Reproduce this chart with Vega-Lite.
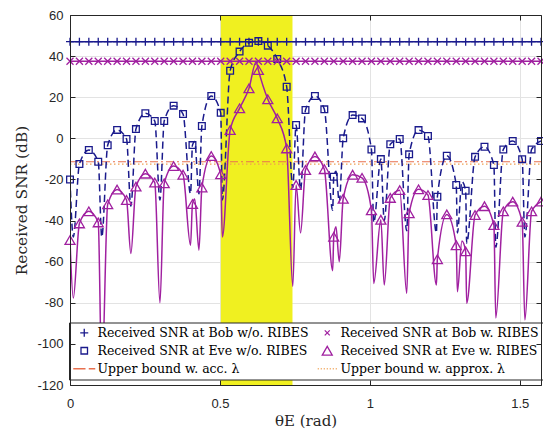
{
  "$schema": "https://vega.github.io/schema/vega-lite/v6.json",
  "width": 471,
  "height": 370,
  "autosize": "none",
  "padding": {"left": 70, "top": 15, "right": 2, "bottom": 46},
  "background": "white",
  "config": {"view": {"stroke": null}},
  "resolve": {"axis": {"x": "independent", "y": "independent"}},
  "datasets": {
    "band": [{"from": 0.503, "to": 0.742, "lo": -120, "hi": 60}],
    "bounds": [{"theta": 0, "acc": -11.4, "approx": -12.5}, {"theta": 1.5708, "acc": -11.4, "approx": -12.5}],
    "legendrows": [],
    "markers": [
      {"theta": 0, "bob_wo": 47, "bob_w": 37.5, "wo": -20, "w": -49.5},
      {"theta": 0.0314, "bob_wo": 47, "bob_w": 37.5, "wo": -12.5, "w": -41.4},
      {"theta": 0.0628, "bob_wo": 47, "bob_w": 37.5, "wo": -5.7, "w": -35.5},
      {"theta": 0.0942, "bob_wo": 47, "bob_w": 37.5, "wo": -11.4, "w": -40.9},
      {"theta": 0.1257, "bob_wo": 47, "bob_w": 37.5, "wo": -3.4, "w": -32.1},
      {"theta": 0.1571, "bob_wo": 47, "bob_w": 37.5, "wo": 4.1, "w": -24.9},
      {"theta": 0.1885, "bob_wo": 47, "bob_w": 37.5, "wo": -0.3, "w": -30},
      {"theta": 0.2199, "bob_wo": 47, "bob_w": 37.5, "wo": 4.5, "w": -23.5},
      {"theta": 0.2513, "bob_wo": 47, "bob_w": 37.5, "wo": 12.2, "w": -17.2},
      {"theta": 0.2827, "bob_wo": 47, "bob_w": 37.5, "wo": 8.4, "w": -21.5},
      {"theta": 0.3142, "bob_wo": 47, "bob_w": 37.5, "wo": 8.4, "w": -21.9},
      {"theta": 0.3456, "bob_wo": 47, "bob_w": 37.5, "wo": 15.9, "w": -13.5},
      {"theta": 0.377, "bob_wo": 47, "bob_w": 37.5, "wo": 11.8, "w": -17.7},
      {"theta": 0.4084, "bob_wo": 47, "bob_w": 37.5, "wo": -3.3, "w": -32},
      {"theta": 0.4398, "bob_wo": 47, "bob_w": 37.5, "wo": 6, "w": -23.9},
      {"theta": 0.4712, "bob_wo": 47, "bob_w": 37.5, "wo": 20.6, "w": -8.6},
      {"theta": 0.5027, "bob_wo": 47, "bob_w": 37.5, "wo": 12.4, "w": -17.5},
      {"theta": 0.5341, "bob_wo": 47, "bob_w": 37.5, "wo": 32.9, "w": 4},
      {"theta": 0.5655, "bob_wo": 47, "bob_w": 37.5, "wo": 42.2, "w": 14.6},
      {"theta": 0.5969, "bob_wo": 47, "bob_w": 37.5, "wo": 46.5, "w": 24.3},
      {"theta": 0.6283, "bob_wo": 47, "bob_w": 37.5, "wo": 47.3, "w": 33.2},
      {"theta": 0.6597, "bob_wo": 47, "bob_w": 37.5, "wo": 45.1, "w": 19},
      {"theta": 0.6912, "bob_wo": 47, "bob_w": 37.5, "wo": 38.6, "w": 9.7},
      {"theta": 0.7226, "bob_wo": 47, "bob_w": 37.5, "wo": 25.1, "w": -4.9},
      {"theta": 0.754, "bob_wo": 47, "bob_w": 37.5, "wo": 6.5, "w": -22.7},
      {"theta": 0.7854, "bob_wo": 47, "bob_w": 37.5, "wo": 13.8, "w": -15.4},
      {"theta": 0.8168, "bob_wo": 47, "bob_w": 37.5, "wo": 20.6, "w": -8.8},
      {"theta": 0.8482, "bob_wo": 47, "bob_w": 37.5, "wo": 14.1, "w": -15},
      {"theta": 0.8796, "bob_wo": 47, "bob_w": 37.5, "wo": -18.7, "w": -47.9},
      {"theta": 0.9111, "bob_wo": 47, "bob_w": 37.5, "wo": 0, "w": -29.4},
      {"theta": 0.9425, "bob_wo": 47, "bob_w": 37.5, "wo": 11.3, "w": -17.7},
      {"theta": 0.9739, "bob_wo": 47, "bob_w": 37.5, "wo": 9.7, "w": -19.2},
      {"theta": 1.0053, "bob_wo": 47, "bob_w": 37.5, "wo": -5.4, "w": -35},
      {"theta": 1.0367, "bob_wo": 47, "bob_w": 37.5, "wo": -10.1, "w": -39.6},
      {"theta": 1.0681, "bob_wo": 47, "bob_w": 37.5, "wo": -2.9, "w": -29},
      {"theta": 1.0996, "bob_wo": 47, "bob_w": 37.5, "wo": -0.3, "w": -25.2},
      {"theta": 1.131, "bob_wo": 47, "bob_w": 37.5, "wo": -7.8, "w": -36.5},
      {"theta": 1.1624, "bob_wo": 47, "bob_w": 37.5, "wo": 4, "w": -24.8},
      {"theta": 1.1938, "bob_wo": 47, "bob_w": 37.5, "wo": 1.1, "w": -27.6},
      {"theta": 1.2252, "bob_wo": 47, "bob_w": 37.5, "wo": -28.4, "w": -58.8},
      {"theta": 1.2566, "bob_wo": 47, "bob_w": 37.5, "wo": -8.5, "w": -37},
      {"theta": 1.2881, "bob_wo": 47, "bob_w": 37.5, "wo": -22.7, "w": -52},
      {"theta": 1.3195, "bob_wo": 47, "bob_w": 37.5, "wo": -25.5, "w": -55},
      {"theta": 1.3509, "bob_wo": 47, "bob_w": 37.5, "wo": -9, "w": -37.3},
      {"theta": 1.3823, "bob_wo": 47, "bob_w": 37.5, "wo": -4.1, "w": -33},
      {"theta": 1.4137, "bob_wo": 47, "bob_w": 37.5, "wo": -13, "w": -42.2},
      {"theta": 1.4451, "bob_wo": 47, "bob_w": 37.5, "wo": -5.4, "w": -35.5},
      {"theta": 1.4765, "bob_wo": 47, "bob_w": 37.5, "wo": -1.3, "w": -30.8},
      {"theta": 1.508, "bob_wo": 47, "bob_w": 37.5, "wo": -10.2, "w": -40.6},
      {"theta": 1.5394, "bob_wo": 47, "bob_w": 37.5, "wo": -5.4, "w": -35.5},
      {"theta": 1.5708, "bob_wo": 47, "bob_w": 37.5, "wo": -1.3, "w": -30.8}
    ],
    "curve": [
      {"theta": 0, "wo": -20, "w": -49.5},
      {"theta": 0.011, "wo": -48, "w": -77.7},
      {"theta": 0.0314, "wo": -12.5, "w": -41.4},
      {"theta": 0.0628, "wo": -5.7, "w": -35.5},
      {"theta": 0.0942, "wo": -11.4, "w": -40.9},
      {"theta": 0.106, "wo": -48, "w": -117},
      {"theta": 0.1257, "wo": -3.4, "w": -32.1},
      {"theta": 0.1571, "wo": 4.1, "w": -24.9},
      {"theta": 0.1885, "wo": -0.3, "w": -30},
      {"theta": 0.203, "wo": -33, "w": -56},
      {"theta": 0.2199, "wo": 4.5, "w": -23.5},
      {"theta": 0.2513, "wo": 12.2, "w": -17.2},
      {"theta": 0.2827, "wo": 8.4, "w": -21.5},
      {"theta": 0.3, "wo": -30, "w": -80},
      {"theta": 0.3142, "wo": 8.4, "w": -21.9},
      {"theta": 0.3456, "wo": 15.9, "w": -13.5},
      {"theta": 0.377, "wo": 11.8, "w": -17.7},
      {"theta": 0.402, "wo": -27, "w": -52},
      {"theta": 0.4084, "wo": -3.3, "w": -32},
      {"theta": 0.416, "wo": -1.5, "w": -29.5},
      {"theta": 0.43, "wo": -27, "w": -54.4},
      {"theta": 0.4398, "wo": 6, "w": -23.9},
      {"theta": 0.4712, "wo": 20.6, "w": -8.6},
      {"theta": 0.5027, "wo": 12.4, "w": -17.5},
      {"theta": 0.508, "wo": -30, "w": -48},
      {"theta": 0.5341, "wo": 32.9, "w": 4},
      {"theta": 0.5655, "wo": 42.2, "w": 14.6},
      {"theta": 0.5969, "wo": 46.5, "w": 24.3},
      {"theta": 0.621, "wo": 47.2, "w": 37.3},
      {"theta": 0.6283, "wo": 47.3, "w": 33.2},
      {"theta": 0.6597, "wo": 45.1, "w": 19},
      {"theta": 0.6912, "wo": 38.6, "w": 9.7},
      {"theta": 0.7226, "wo": 25.1, "w": -4.9},
      {"theta": 0.743, "wo": -24, "w": -72},
      {"theta": 0.754, "wo": 6.5, "w": -22.7},
      {"theta": 0.769, "wo": -25, "w": -46},
      {"theta": 0.7854, "wo": 13.8, "w": -15.4},
      {"theta": 0.8168, "wo": 20.6, "w": -8.8},
      {"theta": 0.8482, "wo": 14.1, "w": -15},
      {"theta": 0.876, "wo": -35, "w": -64.4},
      {"theta": 0.8796, "wo": -18.7, "w": -47.9},
      {"theta": 0.887, "wo": -16, "w": -43},
      {"theta": 0.898, "wo": -31, "w": -60},
      {"theta": 0.9111, "wo": 0, "w": -29.4},
      {"theta": 0.9425, "wo": 11.3, "w": -17.7},
      {"theta": 0.9739, "wo": 9.7, "w": -19.2},
      {"theta": 1.0053, "wo": -5.4, "w": -35},
      {"theta": 1.013, "wo": -41, "w": -70.6},
      {"theta": 1.0367, "wo": -10.1, "w": -39.6},
      {"theta": 1.048, "wo": -40, "w": -71.4},
      {"theta": 1.0681, "wo": -2.9, "w": -29},
      {"theta": 1.0996, "wo": -0.3, "w": -25.2},
      {"theta": 1.123, "wo": -45, "w": -75.4},
      {"theta": 1.131, "wo": -7.8, "w": -36.5},
      {"theta": 1.1624, "wo": 4, "w": -24.8},
      {"theta": 1.1938, "wo": 1.1, "w": -27.6},
      {"theta": 1.222, "wo": -46, "w": -71.4},
      {"theta": 1.2252, "wo": -28.4, "w": -58.8},
      {"theta": 1.2566, "wo": -8.5, "w": -37},
      {"theta": 1.2881, "wo": -22.7, "w": -52},
      {"theta": 1.292, "wo": -46, "w": -74.6},
      {"theta": 1.307, "wo": -21, "w": -50},
      {"theta": 1.3195, "wo": -25.5, "w": -55},
      {"theta": 1.323, "wo": -51, "w": -80.3},
      {"theta": 1.3509, "wo": -9, "w": -37.3},
      {"theta": 1.3823, "wo": -4.1, "w": -33},
      {"theta": 1.4137, "wo": -13, "w": -42.2},
      {"theta": 1.42, "wo": -53, "w": -87.4},
      {"theta": 1.4451, "wo": -5.4, "w": -35.5},
      {"theta": 1.4765, "wo": -1.3, "w": -30.8},
      {"theta": 1.508, "wo": -10.2, "w": -40.6},
      {"theta": 1.517, "wo": -48, "w": -88.4},
      {"theta": 1.5394, "wo": -5.4, "w": -35.5},
      {"theta": 1.5708, "wo": -1.3, "w": -30.8}
    ]
  },
  "layer": [
    {
      "data": {"name": "band"},
      "mark": {"type": "rect", "color": "#F0F020"},
      "encoding": {
        "x": {"field": "from", "type": "quantitative", "scale": {"domain": [0, 1.5708], "nice": false, "zero": false},
          "axis": {"orient": "bottom", "values": [0, 0.5, 1, 1.5], "grid": true, "gridColor": "#E3E3E3", "gridWidth": 1, "domain": false, "ticks": false, "labels": false, "title": null, "zindex": 0}},
        "x2": {"field": "to"},
        "y": {"field": "lo", "type": "quantitative", "scale": {"domain": [-120, 60], "nice": false, "zero": false},
          "axis": {"orient": "left", "values": [-120, -100, -80, -60, -40, -20, 0, 20, 40, 60], "grid": true, "gridColor": "#E3E3E3", "gridWidth": 1, "domain": false, "ticks": false, "labels": false, "title": null, "zindex": 0}},
        "y2": {"field": "hi"}
      }
    },
    {
      "data": {"name": "bounds"},
      "mark": {"type": "line", "color": "#E8704F", "strokeWidth": 1.2, "strokeDash": [8, 3, 2, 3]},
      "encoding": {
        "x": {"field": "theta", "type": "quantitative", "axis": null},
        "y": {"field": "acc", "type": "quantitative", "axis": null}
      }
    },
    {
      "data": {"name": "bounds"},
      "mark": {"type": "line", "color": "#F0A050", "strokeWidth": 1.2, "strokeDash": [1.5, 2.5]},
      "encoding": {
        "x": {"field": "theta", "type": "quantitative", "axis": null},
        "y": {"field": "approx", "type": "quantitative", "axis": null}
      }
    },
    {
      "data": {"name": "curve"},
      "mark": {"type": "line", "color": "#1A1A8C", "strokeWidth": 1.5, "strokeDash": [7, 4], "interpolate": "monotone", "clip": true},
      "encoding": {
        "x": {"field": "theta", "type": "quantitative", "axis": null},
        "y": {"field": "wo", "type": "quantitative", "axis": null}
      }
    },
    {
      "data": {"name": "markers"},
      "mark": {"type": "point", "shape": "square", "size": 45, "filled": false, "color": "#1A1A8C", "strokeWidth": 1.3, "opacity": 1},
      "encoding": {
        "x": {"field": "theta", "type": "quantitative", "axis": null},
        "y": {"field": "wo", "type": "quantitative", "axis": null}
      }
    },
    {
      "data": {"name": "curve"},
      "mark": {"type": "line", "color": "#A020A0", "strokeWidth": 1.5, "interpolate": "monotone", "clip": true},
      "encoding": {
        "x": {"field": "theta", "type": "quantitative", "axis": null},
        "y": {"field": "w", "type": "quantitative", "axis": null}
      }
    },
    {
      "data": {"name": "markers"},
      "mark": {"type": "point", "shape": "triangle-up", "size": 100, "filled": false, "color": "#A020A0", "strokeWidth": 1.3, "opacity": 1},
      "encoding": {
        "x": {"field": "theta", "type": "quantitative", "axis": null},
        "y": {"field": "w", "type": "quantitative", "axis": null}
      }
    },
    {
      "data": {"name": "markers"},
      "mark": {"type": "line", "color": "#1A1A8C", "strokeWidth": 1.5},
      "encoding": {
        "x": {"field": "theta", "type": "quantitative",
          "axis": {"orient": "bottom", "values": [0, 0.5, 1, 1.5], "labelExpr": "'' + datum.value", "grid": false, "domain": true, "domainColor": "#262626", "ticks": true, "tickSize": -5, "tickColor": "#262626", "labelFont": "Liberation Sans", "labelFontSize": 13, "labelColor": "#262626", "labelPadding": 17, "labelFlush": false, "labelOverlap": false, "title": "θE (rad)", "titleFont": "DejaVu Serif", "titleFontSize": 15, "titleFontWeight": "normal", "titleColor": "#262626", "titleX": 235.5, "titleY": 35, "titleBaseline": "middle", "titleAlign": "center", "zindex": 1}},
        "y": {"field": "bob_wo", "type": "quantitative",
          "axis": {"orient": "left", "values": [-120, -100, -80, -60, -40, -20, 0, 20, 40, 60], "labelExpr": "'' + datum.value", "grid": false, "domain": true, "domainColor": "#262626", "ticks": true, "tickSize": -5, "tickColor": "#262626", "labelFont": "Liberation Sans", "labelFontSize": 13, "labelColor": "#262626", "labelPadding": 12, "labelFlush": false, "labelOverlap": false, "title": "Received SNR (dB)", "titleFont": "DejaVu Serif", "titleFontSize": 15.4, "titleFontWeight": "normal", "titleColor": "#262626", "titleX": -49, "titleY": 185, "titleAngle": 270, "titleBaseline": "middle", "titleAlign": "center", "zindex": 1}}
      }
    },
    {
      "data": {"name": "markers"},
      "mark": {"type": "point", "shape": "M-1,0H1M0,-1V1", "size": 64, "filled": false, "color": "#1A1A8C", "strokeWidth": 1.3, "opacity": 1},
      "encoding": {
        "x": {"field": "theta", "type": "quantitative", "axis": null},
        "y": {"field": "bob_wo", "type": "quantitative", "axis": null}
      }
    },
    {
      "data": {"name": "markers"},
      "mark": {"type": "line", "color": "#A020A0", "strokeWidth": 1.5},
      "encoding": {
        "x": {"field": "theta", "type": "quantitative",
          "axis": {"orient": "top", "values": [0, 0.5, 1, 1.5], "labels": false, "title": null, "grid": false, "domain": true, "domainColor": "#262626", "ticks": true, "tickSize": -5, "tickColor": "#262626", "zindex": 1}},
        "y": {"field": "bob_w", "type": "quantitative",
          "axis": {"orient": "right", "values": [-120, -100, -80, -60, -40, -20, 0, 20, 40, 60], "labels": false, "title": null, "grid": false, "domain": true, "domainColor": "#262626", "ticks": true, "tickSize": -5, "tickColor": "#262626", "zindex": 1}}
      }
    },
    {
      "data": {"name": "markers"},
      "mark": {"type": "point", "shape": "M-1,-1L1,1M-1,1L1,-1", "size": 49, "filled": false, "color": "#A020A0", "strokeWidth": 1.3, "opacity": 1},
      "encoding": {
        "x": {"field": "theta", "type": "quantitative", "axis": null},
        "y": {"field": "bob_w", "type": "quantitative", "axis": null}
      }
    },
    {
      "data": {"name": "legendrows"},
      "mark": {"type": "point", "filled": false, "strokeWidth": 1.3, "opacity": 1},
      "encoding": {
        "shape": {"field": "series", "type": "nominal",
          "scale": {"domain": ["Received SNR at Bob w/o. RIBES", "Received SNR at Eve w/o. RIBES", "Upper bound w. acc. λ", "Received SNR at Bob w. RIBES", "Received SNR at Eve w. RIBES", "Upper bound w. approx. λ"],
            "range": ["M-0.8,0H0.8M0,-0.8V0.8", "M-0.65,-0.65H0.65V0.65H-0.65Z", "M-2.2,0H0.25M0.9,0H2.2", "M-0.5,-0.5L0.5,0.5M-0.5,0.5L0.5,-0.5", "M0,-0.87L1,0.87H-1Z", "M-1.9,0h0.2M-1.3,0h0.2M-0.7,0h0.2M-0.1,0h0.2M0.5,0h0.2M1.1,0h0.2M1.7,0h0.2"]},
          "legend": {"title": null, "orient": "none", "legendX": -1, "legendY": 307.5, "columns": 2, "symbolSize": 100, "symbolStrokeWidth": 1.3, "symbolOffset": 5, "labelFont": "DejaVu Serif", "labelFontSize": 12.5, "labelColor": "#000000", "labelLimit": 400, "labelOffset": 7, "columnPadding": 6, "rowPadding": 4, "padding": 4, "strokeColor": "#262626", "fillColor": "white", "cornerRadius": 0}},
        "color": {"field": "series", "type": "nominal",
          "scale": {"domain": ["Received SNR at Bob w/o. RIBES", "Received SNR at Eve w/o. RIBES", "Upper bound w. acc. λ", "Received SNR at Bob w. RIBES", "Received SNR at Eve w. RIBES", "Upper bound w. approx. λ"],
            "range": ["#1A1A8C", "#1A1A8C", "#E8704F", "#A020A0", "#A020A0", "#F0A050"]},
          "legend": {"title": null, "orient": "none", "legendX": -1, "legendY": 307.5, "columns": 2, "symbolSize": 100, "symbolStrokeWidth": 1.3, "symbolOffset": 5, "labelFont": "DejaVu Serif", "labelFontSize": 12.5, "labelColor": "#000000", "labelLimit": 400, "labelOffset": 7, "columnPadding": 6, "rowPadding": 4, "padding": 4, "strokeColor": "#262626", "fillColor": "white", "cornerRadius": 0}}
      }
    }
  ]
}
